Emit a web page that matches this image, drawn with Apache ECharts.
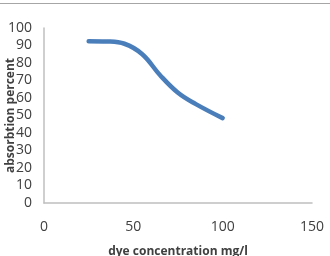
<!DOCTYPE html>
<html>
<head>
<meta charset="utf-8">
<script src="https://cdn.jsdelivr.net/npm/echarts@6/dist/echarts.min.js"></script>
<style>
  html, body { margin: 0; padding: 0; background: #fff; }
  #chart { width: 330px; height: 256px; }
</style>
</head>
<body>
<div id="chart"></div>
<script>
// dye concentration (mg/l) vs absorption percent
var concentration = [25, 35, 45, 55, 65, 75, 85, 100];
var absorption = [92.5, 92.3, 91, 85, 73, 63, 56.5, 48.5];

var chart = echarts.init(document.getElementById('chart'));
var labelFont = { color: '#404040', fontSize: 14, fontFamily: 'Open Sans' };

chart.setOption({
    animation: false,
    grid: { left: 44, right: 18, top: 28, bottom: 53, outerBoundsMode: 'none' },
    graphic: [{
        type: 'line',
        shape: { x1: 0, y1: 3.5, x2: 330, y2: 3.5 },
        style: { stroke: '#a6a6a6', lineWidth: 1 }
    }],
    xAxis: {
        type: 'value',
        min: 0, max: 150, interval: 50,
        name: 'dye concentration mg/l',
        nameLocation: 'middle',
        nameGap: 43,
        nameMoveOverlap: false,
        nameTextStyle: { color: '#404040', fontSize: 12, fontWeight: 'bold', fontFamily: 'Open Sans' },
        axisLine: { lineStyle: { color: '#bfbfbf', width: 1.5 } },
        axisTick: { show: false },
        splitLine: { show: false },
        axisLabel: Object.assign({ margin: 17 }, labelFont)
    },
    yAxis: {
        type: 'value',
        min: 0, max: 100, interval: 10,
        name: 'absorbtion percent',
        nameLocation: 'middle',
        nameGap: 27,
        nameMoveOverlap: false,
        nameTextStyle: { color: '#404040', fontSize: 12, fontWeight: 'bold', fontFamily: 'Open Sans' },
        axisLine: { show: true, lineStyle: { color: '#bfbfbf', width: 1.5 } },
        axisTick: { show: false },
        splitLine: { show: false },
        axisLabel: Object.assign({ margin: 12 }, labelFont)
    },
    series: [{
        type: 'line',
        smooth: 0.4,
        showSymbol: false,
        data: concentration.map(function (c, i) { return [c, absorption[i]]; }),
        lineStyle: { color: '#4a7ebb', width: 4.5, cap: 'round' }
    }]
});
</script>
</body>
</html>
